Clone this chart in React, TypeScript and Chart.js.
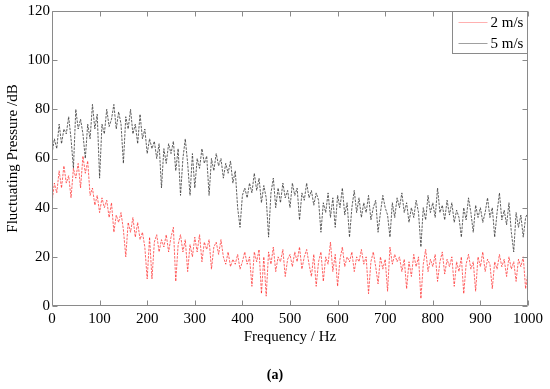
import React, { useEffect, useRef } from "react";
import { Chart, registerables } from "chart.js";

Chart.register(...registerables);

// Frequency grid step (Hz); frequencies run 0..1000
const STEP_HZ = 5;

// Fluctuating pressure (dB) at 5 m/s, every 5 Hz from 0 to 1000 Hz
const p5ms = [
  62, 68, 64, 74, 66, 72, 70, 77, 68, 56,
  80, 72, 76, 70, 60, 74, 68, 82, 72, 78,
  52, 74, 70, 80, 73, 76, 82, 72, 79, 74,
  58, 77, 72, 80, 70, 74, 66, 78, 68, 72,
  62, 68, 64, 67, 60, 66, 48, 64, 58, 66,
  62, 67, 55, 64, 45, 60, 68, 58, 45, 62,
  48, 60, 56, 64, 58, 61, 45, 60, 55, 62,
  57, 60, 52, 58, 54, 59, 50, 55, 40, 32,
  45, 48, 44, 50, 46, 54, 47, 52, 42, 49,
  44, 28, 46, 52, 40, 48, 42, 50, 44, 47,
  40, 50, 45, 48, 35, 46, 43, 50, 44, 47,
  41, 46, 43, 30, 42, 38, 46, 36, 44, 32,
  45, 40, 48, 37, 42, 28, 40, 47, 38, 44,
  36, 42, 38, 45, 35, 40, 43, 30, 38, 45,
  40, 37, 28, 42, 36, 44, 40, 46, 38, 42,
  34, 40, 36, 43, 38, 24, 40, 35, 45, 38,
  42, 36, 48, 38, 41, 35, 43, 37, 42, 34,
  39, 36, 28, 40, 35, 44, 38, 30, 41, 36,
  40, 34, 38, 44, 36, 40, 28, 38, 46, 35,
  39, 33, 42, 30, 22, 38, 32, 37, 28, 36,
  38,
];

// Fluctuating pressure (dB) at 2 m/s, every 5 Hz from 0 to 1000 Hz
const p2ms = [
  42, 50, 46, 55, 48, 57, 50, 53, 44, 56,
  52, 58, 48, 61, 54, 59, 45, 48, 41, 45,
  38, 44, 40, 43, 36, 42, 30, 37, 34, 38,
  31, 20, 34, 30, 36, 28, 34, 27, 30, 24,
  11, 28, 11, 26, 29, 22, 27, 24, 29, 22,
  28, 32, 10, 25, 29, 22, 27, 14, 25, 20,
  28, 22, 29, 18, 26, 23, 27, 15, 24, 26,
  21, 27, 20, 17, 22, 16, 19, 17, 21, 15,
  18, 22, 17, 20, 8, 22, 18, 23, 5, 20,
  4, 22, 17, 24, 14, 20, 18, 23, 12, 19,
  21, 16, 22, 18, 24, 15, 20, 23, 17, 12,
  21, 8, 18, 22, 10, 20, 17, 26, 14, 21,
  8, 19, 24, 16, 20, 18, 22, 14, 20, 18,
  23, 17, 20, 5, 18, 22, 16, 9, 20, 15,
  19, 6, 24, 17, 21, 18, 20, 14, 19, 7,
  18, 12, 21, 16, 20, 3, 17, 23, 14, 19,
  16, 21, 10, 18, 22, 13, 19, 16, 20, 8,
  18, 14, 20, 5, 17, 21, 15, 18, 6, 20,
  16, 22, 14, 19, 17, 7, 18, 15, 21, 16,
  19, 12, 20, 15, 18, 10, 19, 16, 20, 7,
  14,
];

const seriesLabels = ["2 m/s", "5 m/s"];
const seriesColors = ["rgba(255,30,30,0.85)", "#383838"];
const legendColors = ["#ffb0b0", "#a0a0a0"];

const xMin = 0;
const xMax = 1000;
const xStep = 100;
const yMin = 0;
const yMax = 120;
const yStep = 20;

const xTitle = "Frequency / Hz";
const yTitle = "Fluctuating Pressure /dB";
const caption = "(a)";

const FONT = "'Liberation Serif', 'Times New Roman', serif";
const FS = 15;

const toPoints = (vals: number[]) =>
  vals.map((v, i) => ({ x: i * STEP_HZ, y: v }));

const framePlugin = {
  id: "matlabFrame",
  afterDraw(chart: any) {
    const { ctx, chartArea: a, scales } = chart;
    const xs = scales.x;
    const ys = scales.y;
    ctx.save();
    ctx.setLineDash([]);
    ctx.strokeStyle = "#8a8a8a";
    ctx.lineWidth = 1;
    const L = Math.round(a.left) + 0.5;
    const R = Math.round(a.right) - 0.5;
    const T = Math.round(a.top) + 0.5;
    const B = Math.round(a.bottom) - 0.5;
    ctx.beginPath();
    ctx.rect(L, T, R - L, B - T);
    const tl = 5;
    xs.ticks.forEach((t: any) => {
      const px = Math.round(xs.getPixelForValue(t.value)) + 0.5;
      ctx.moveTo(px, B);
      ctx.lineTo(px, B - tl);
      ctx.moveTo(px, T);
      ctx.lineTo(px, T + tl);
    });
    ys.ticks.forEach((t: any) => {
      const py = Math.round(ys.getPixelForValue(t.value)) + 0.5;
      ctx.moveTo(L, py);
      ctx.lineTo(L + tl, py);
      ctx.moveTo(R, py);
      ctx.lineTo(R - tl, py);
    });
    ctx.stroke();

    // legend box in the upper-right corner
    const bw = 75;
    const bh = 42;
    const bx = R - bw;
    const by = T;
    ctx.fillStyle = "#ffffff";
    ctx.fillRect(bx, by, bw, bh);
    ctx.strokeStyle = "#8a8a8a";
    ctx.strokeRect(bx, by, bw, bh);
    ctx.font = `${FS}px ${FONT}`;
    ctx.textBaseline = "middle";
    ctx.textAlign = "left";
    chart.data.datasets.forEach((ds: any, i: number) => {
      const ly = Math.round(by + 10 + i * 21) + 0.5;
      ctx.strokeStyle = legendColors[i];
      ctx.lineWidth = 1;
      ctx.beginPath();
      ctx.moveTo(bx + 6, ly);
      ctx.lineTo(bx + 35, ly);
      ctx.stroke();
      ctx.fillStyle = "#000";
      ctx.fillText(ds.label, bx + 38, ly + 1);
    });
    ctx.restore();
  },
};

export default function App() {
  const ref = useRef<HTMLCanvasElement>(null);

  useEffect(() => {
    if (!ref.current) return;
    const chart = new Chart(ref.current, {
      type: "line",
      data: {
        datasets: [
          {
            label: seriesLabels[0],
            data: toPoints(p2ms),
            borderColor: seriesColors[0],
            borderWidth: 0.8,
            borderDash: [2.5, 1.2],
            pointRadius: 0,
            tension: 0,
            fill: false,
          },
          {
            label: seriesLabels[1],
            data: toPoints(p5ms),
            borderColor: seriesColors[1],
            borderWidth: 0.8,
            borderDash: [2.5, 1.2],
            pointRadius: 0,
            tension: 0,
            fill: false,
          },
        ],
      },
      options: {
        animation: false,
        responsive: false,
        maintainAspectRatio: false,
        layout: { padding: { top: 10, right: 22, left: 0, bottom: 43 } },
        plugins: {
          legend: { display: false },
          tooltip: { enabled: false },
        },
        scales: {
          x: {
            type: "linear",
            min: xMin,
            max: xMax,
            border: { display: false },
            grid: { display: false, drawTicks: false, tickLength: 0 },
            ticks: {
              stepSize: xStep,
              color: "#000",
              padding: 4,
              maxRotation: 0,
              font: { family: FONT, size: FS },
              callback: (v: any) => String(v),
            },
            title: {
              display: true,
              text: xTitle,
              color: "#000",
              padding: { top: 0, bottom: 0 },
              font: { family: FONT, size: FS },
            },
            afterFit(scale: any) {
              scale.height = 40;
            },
          },
          y: {
            type: "linear",
            min: yMin,
            max: yMax,
            border: { display: false },
            grid: { display: false, drawTicks: false, tickLength: 0 },
            ticks: {
              stepSize: yStep,
              color: "#000",
              padding: 2,
              font: { family: FONT, size: FS },
            },
            title: {
              display: true,
              text: yTitle,
              color: "#000",
              padding: { top: 4, bottom: 0 },
              font: { family: FONT, size: FS },
            },
            afterFit(scale: any) {
              scale.width = 52;
            },
          },
        },
      },
      plugins: [framePlugin],
    });
    return () => chart.destroy();
  }, []);

  return (
    <div
      style={{
        position: "fixed",
        left: 0,
        top: 0,
        width: 550,
        height: 389,
        background: "#fff",
      }}
    >
      <canvas ref={ref} width={550} height={389} style={{ display: "block" }} />
      <div
        style={{
          position: "absolute",
          left: 0,
          width: 550,
          top: 366,
          textAlign: "center",
          fontFamily: FONT,
          fontWeight: "bold",
          fontSize: 14,
          lineHeight: "18px",
          color: "#000",
        }}
      >
        {caption}
      </div>
    </div>
  );
}
